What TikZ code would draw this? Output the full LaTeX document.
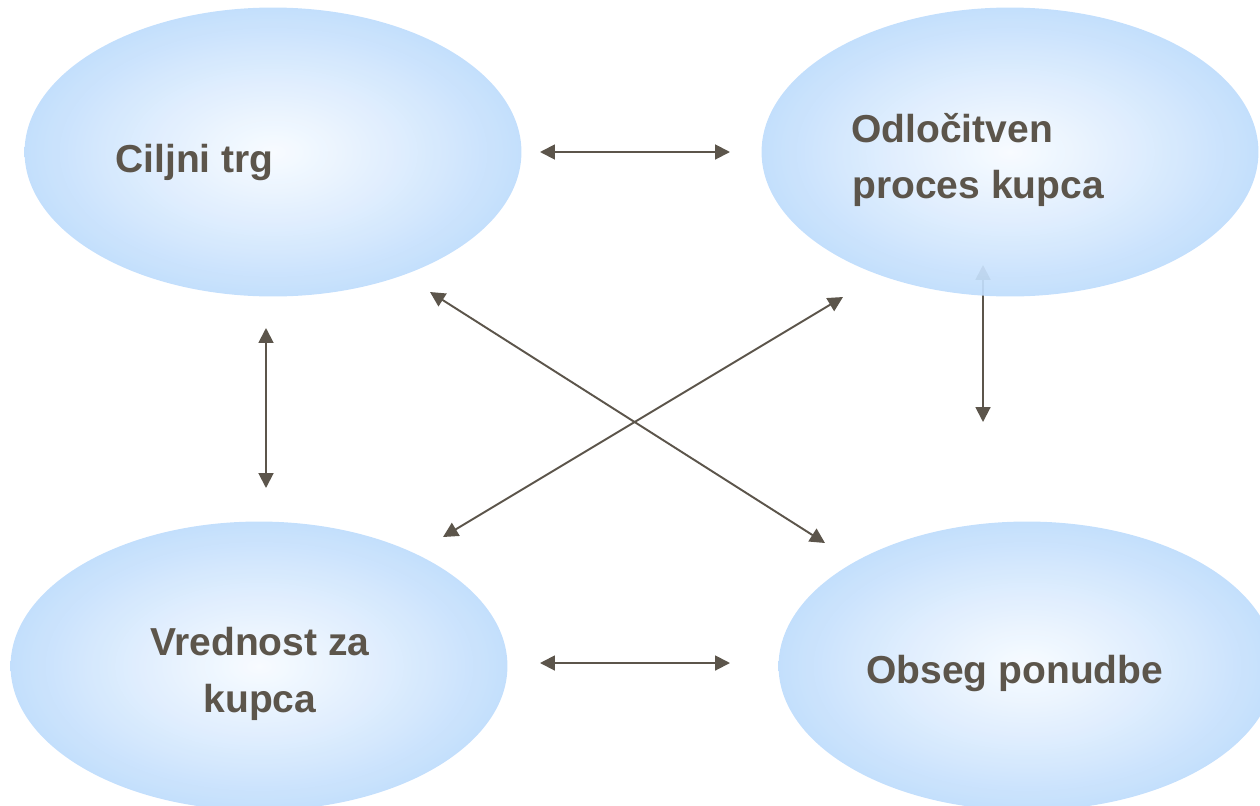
\documentclass[tikz,border=0pt]{standalone}
\usepackage{fontspec}
\setmainfont{Liberation Sans}
\usetikzlibrary{shapes.geometric,arrows.meta}
\definecolor{txtgray}{RGB}{92,85,75}
\definecolor{bubbleedge}{RGB}{190,220,252}
\definecolor{bubblemid}{RGB}{224,238,254}
\definecolor{bubblecore}{RGB}{247,251,255}
\pgfdeclareradialshading{bubbleshade}{\pgfpoint{0bp}{0bp}}{%
	color(0bp)=(bubblecore); color(11bp)=(bubblemid); color(25bp)=(bubbleedge); color(50bp)=(bubbleedge)}
\tikzset{
	bubble/.style={ellipse, shade, shading=bubbleshade, minimum width=9.94cm, minimum height=5.78cm,
		inner sep=0pt, fill opacity=0.92},
	lbl/.style={text=txtgray, font=\fontsize{22.2}{32}\selectfont\bfseries, inner sep=0pt},
	link/.style={draw=txtgray, line width=1.1pt,
		{Triangle[length=8.5pt,width=8.5pt]}-{Triangle[length=8.5pt,width=8.5pt]}},
}

\begin{document}
\begin{tikzpicture}[x=0.02cm,y=-0.02cm]
		\useasboundingbox (0,0) rectangle (1260,805);
		\clip (0,0) rectangle (1260,805);
		% this one runs up under the top right bubble
		\coordinate (D1) at (983,265);
		\coordinate (P1) at (983,422);
		\draw[link] (D1)--(P1);
		
		\node[bubble] (C) at (273,152) {};
		\node[bubble] (D) at (1010,152) {};
		\node[bubble] (V) at (259,666) {};
		\node[bubble] (P) at (1027,666) {};
		
		\node[lbl,anchor=base west] (Ct) at (115,172) {Ciljni trg};
		\node[lbl,anchor=base west] (Dt1) at (851,142) {Odločitven};
		\node[lbl,anchor=base west] (Dt2) at (852,198) {proces kupca};
		\node[lbl,anchor=base] (Vt1) at (260,655) {Vrednost za};
		\node[lbl,anchor=base] (Vt2) at (260,712) {kupca};
		\node[lbl,anchor=base west] (Pt) at (866,683) {Obseg ponudbe};
		
		\coordinate (A1) at (540,152);
		\coordinate (A2) at (730,152);
		\coordinate (B1) at (540,663);
		\coordinate (B2) at (730,663);
		\coordinate (C1) at (266,328);
		\coordinate (C2) at (266,488);
		\coordinate (X1) at (430,292);
		\coordinate (X2) at (825,543);
		\coordinate (Y1) at (843,297);
		\coordinate (Y2) at (443,537);
		\draw[link] (A1)--(A2);
		\draw[link] (B1)--(B2);
		\draw[link] (C1)--(C2);
		\draw[link] (X1)--(X2);
		\draw[link] (Y1)--(Y2);
\end{tikzpicture}
\end{document}
